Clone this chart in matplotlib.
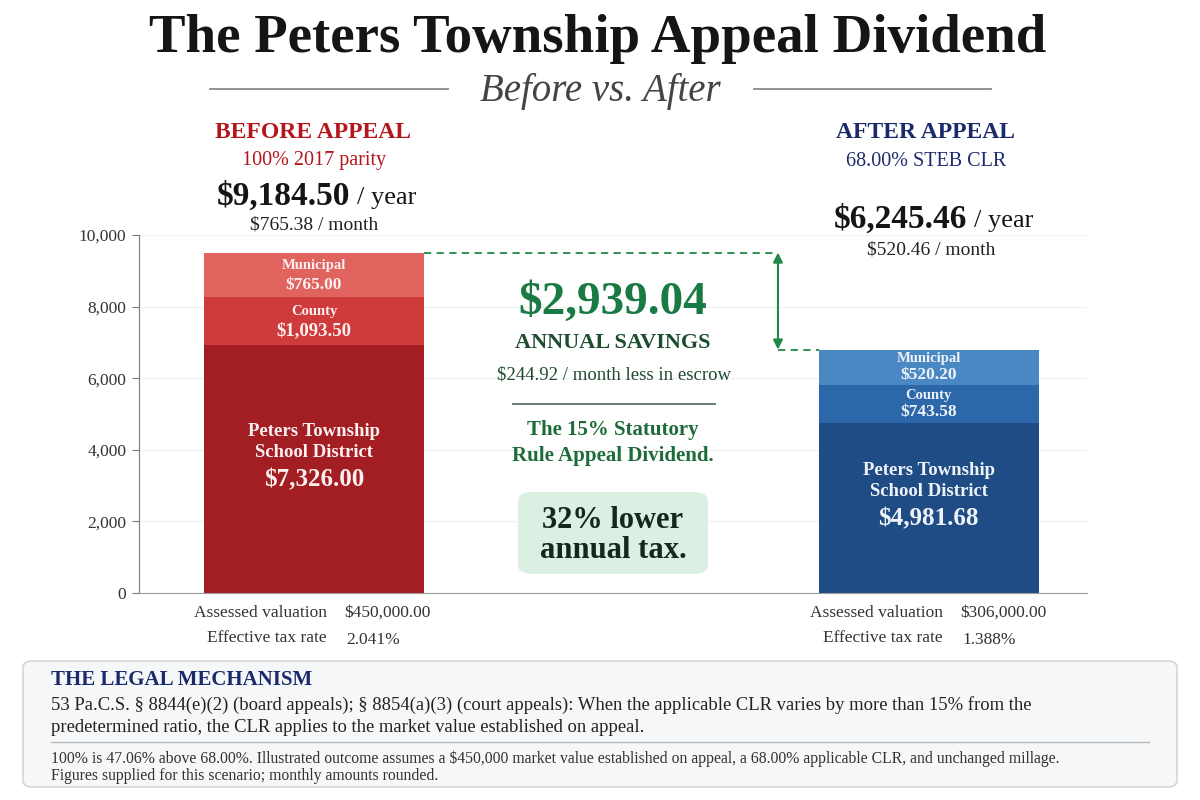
import matplotlib
matplotlib.use("Agg")
import matplotlib.pyplot as plt
from matplotlib.patches import FancyBboxPatch
from matplotlib.lines import Line2D

plt.rcParams['font.family'] = ['Liberation Serif', 'DejaVu Serif']

# data (segment heights as drawn, bottom -> top)
segments = ["School District", "County", "Municipal"]
before_heights = [6940, 1325, 1245]
after_heights = [4745, 1075, 980]
before_labels = ["$7,326.00", "$1,093.50", "$765.00"]
after_labels = ["$4,981.68", "$743.58", "$520.20"]
before_colors = ["#a31e22", "#cf3a3a", "#e0635d"]
after_colors = ["#1f4c84", "#2b67a9", "#4a88c4"]
yticks = [0, 2000, 4000, 6000, 8000, 10000]

W, H = 1200, 800
fig = plt.figure(figsize=(12, 8), dpi=100)
fig.patch.set_facecolor("white")


def px(x, y):
    return x / W, 1 - y / H


def ftext(x, y, s, **kw):
    kw.setdefault("ha", "center")
    kw.setdefault("va", "center")
    fig.text(*px(x, y), s, **kw)


# ---- axes with stacked bars
ax = fig.add_axes([139 / W, 1 - 593 / H, (1087 - 139) / W, (593 - 235) / H])
bar_w = 0.358
xs = [0, 1]
ax.set_xlim(-0.2848, 1.2579)
ax.set_ylim(0, 10000)

for i, (heights, labels, colors) in enumerate([(before_heights, before_labels, before_colors),
                                                (after_heights, after_labels, after_colors)]):
    bottom = 0
    for j, (h, lab, c) in enumerate(zip(heights, labels, colors)):
        ax.bar(xs[i], h, bar_w, bottom=bottom, color=c, zorder=2)
        mid = bottom + h / 2
        tc = "#fbefef" if i == 0 else "#eef3fa"
        if j == 0:
            ax.annotate("Peters Township", (xs[i], mid), xytext=(0, 27), textcoords="offset points",
                        ha="center", va="center", color=tc, fontsize=13.5, fontweight="bold")
            ax.annotate("School District", (xs[i], mid), xytext=(0, 12), textcoords="offset points",
                        ha="center", va="center", color=tc, fontsize=13.5, fontweight="bold")
            ax.annotate(lab, (xs[i], mid), xytext=(0, -8), textcoords="offset points",
                        ha="center", va="center", color=tc, fontsize=18, fontweight="bold")
        else:
            name = segments[j]
            big = (i == 0 and j == 1)
            off = 7 if i == 0 else 6
            ax.annotate(name, (xs[i], mid), xytext=(0, off), textcoords="offset points",
                        ha="center", va="center", color=tc, fontsize=10.5, fontweight="bold")
            ax.annotate(lab, (xs[i], mid), xytext=(0, -off), textcoords="offset points",
                        ha="center", va="center", color=tc,
                        fontsize=13.5 if big else 12.5, fontweight="bold")
        bottom += h

before_total = sum(before_heights)
after_total = sum(after_heights)
arrow_x = 0.755
ax.plot([xs[0] + bar_w / 2, arrow_x], [before_total, before_total], ls=(0, (4, 3)),
        color="#1f8a45", lw=1.3, zorder=3)
ax.plot([arrow_x, xs[1] - bar_w / 2], [after_total, after_total], ls=(0, (4, 3)),
        color="#1f8a45", lw=1.3, zorder=3)
ax.annotate("", xy=(arrow_x, after_total), xytext=(arrow_x, before_total),
            arrowprops=dict(arrowstyle="<|-|>", color="#1f8a45", lw=1.5,
                            mutation_scale=14, shrinkA=0, shrinkB=0))

ax.set_yticks(yticks)
ax.set_yticklabels([f"{v:,}" for v in yticks], fontsize=12.5, color="#333333")
ax.set_xticks([])
ax.grid(axis="y", color="#f1f1f1", lw=1, zorder=0)
for s in ["top", "right"]:
    ax.spines[s].set_visible(False)
ax.spines["left"].set_color("#7a7a7a")
ax.spines["bottom"].set_color("#9a9a9a")
ax.tick_params(axis="y", length=5, color="#7a7a7a", pad=4)
ax.set_facecolor("white")

# ---- title
ftext(598, 39, "The Peters Township Appeal Dividend", fontsize=39.5, fontweight="bold", color="#151515")
ftext(600, 91, "Before vs. After", fontsize=28, style="italic", color="#444444")
fig.add_artist(Line2D([210 / W, 448 / W], [1 - 89 / H] * 2, color="#888888", lw=1.3))
fig.add_artist(Line2D([754 / W, 991 / W], [1 - 89 / H] * 2, color="#888888", lw=1.3))

# ---- column headings
red, navy = "#b5161c", "#1b2a6b"
ftext(313, 132, "BEFORE APPEAL", fontsize=17, fontweight="bold", color=red)
ftext(314, 161, "100% 2017 parity", fontsize=14.5, color=red)
ftext(350, 196, "$9,184.50", fontsize=24, fontweight="bold", color="#151515", ha="right")
ftext(357, 198, "/ year", fontsize=19, color="#151515", ha="left")
ftext(314, 225, "$765.38 / month", fontsize=14, color="#222222")

ftext(926, 132, "AFTER APPEAL", fontsize=17, fontweight="bold", color=navy)
ftext(926, 161, "68.00% STEB CLR", fontsize=14.5, color=navy)
ftext(967, 219, "$6,245.46", fontsize=24, fontweight="bold", color="#151515", ha="right")
ftext(974, 221, "/ year", fontsize=19, color="#151515", ha="left")
ftext(931, 250, "$520.46 / month", fontsize=14, color="#222222")

# ---- savings block
green = "#1a7a44"
ftext(613, 303, "$2,939.04", fontsize=34, fontweight="bold", color=green)
ftext(613, 343, "ANNUAL SAVINGS", fontsize=16, fontweight="bold", color="#1b4d2e")
ftext(614, 375, "$244.92 / month less in escrow", fontsize=13.5, color="#1f4a2f")
fig.add_artist(Line2D([513 / W, 715 / W], [1 - 404 / H] * 2, color="#5d6f64", lw=1.3))
ftext(613, 430, "The 15% Statutory", fontsize=15, fontweight="bold", color="#1e6b3a")
ftext(613, 456, "Rule Appeal Dividend.", fontsize=15, fontweight="bold", color="#1e6b3a")
fig.add_artist(FancyBboxPatch((518 / W, 1 - 574 / H), 190 / W, 82 / H,
                              boxstyle="round,pad=0,rounding_size=0.012",
                              transform=fig.transFigure, facecolor="#dcefe3",
                              edgecolor="none"))
ftext(613, 521, "32% lower", fontsize=22, fontweight="bold", color="#13291c")
ftext(613, 551, "annual tax.", fontsize=22, fontweight="bold", color="#13291c")

# ---- valuations below bars
for xr, vals in [(327, ["$450,000.00", "2.041%"]), (943, ["$306,000.00", "1.388%"])]:
    ftext(xr, 613, "Assessed valuation", fontsize=12.5, color="#333333", ha="right")
    ftext(xr, 638, "Effective tax rate", fontsize=12.5, color="#333333", ha="right")
    ftext(xr + 17, 613, vals[0], fontsize=12.5, color="#333333", ha="left")
    ftext(xr + 19, 640, vals[1], fontsize=12.5, color="#333333", ha="left")

# ---- legal box
fig.add_artist(FancyBboxPatch((23 / W, 1 - 787 / H), 1154 / W, 126 / H,
                              boxstyle="round,pad=0,rounding_size=0.008",
                              transform=fig.transFigure, facecolor="#f6f7f8",
                              edgecolor="#d2d5d8", lw=1.2))
ftext(51, 680, "THE LEGAL MECHANISM", fontsize=15, fontweight="bold", color=navy, ha="left")
ftext(51, 705, "53 Pa.C.S. § 8844(e)(2) (board appeals); § 8854(a)(3) (court appeals): When the applicable "
               "CLR varies by more than 15% from the", fontsize=13.4, color="#222222", ha="left")
ftext(51, 727, "predetermined ratio, the CLR applies to the market value established on appeal.",
      fontsize=13.4, color="#222222", ha="left")
fig.add_artist(Line2D([51 / W, 1149 / W], [1 - 742 / H] * 2, color="#b5b8bb", lw=1))
ftext(51, 759, "100% is 47.06% above 68.00%. Illustrated outcome assumes a $450,000 market value "
               "established on appeal, a 68.00% applicable CLR, and unchanged millage.",
      fontsize=11.3, color="#333333", ha="left")
ftext(51, 776, "Figures supplied for this scenario; monthly amounts rounded.",
      fontsize=11.3, color="#333333", ha="left")

fig.savefig("out.png", dpi=100, facecolor="white")
